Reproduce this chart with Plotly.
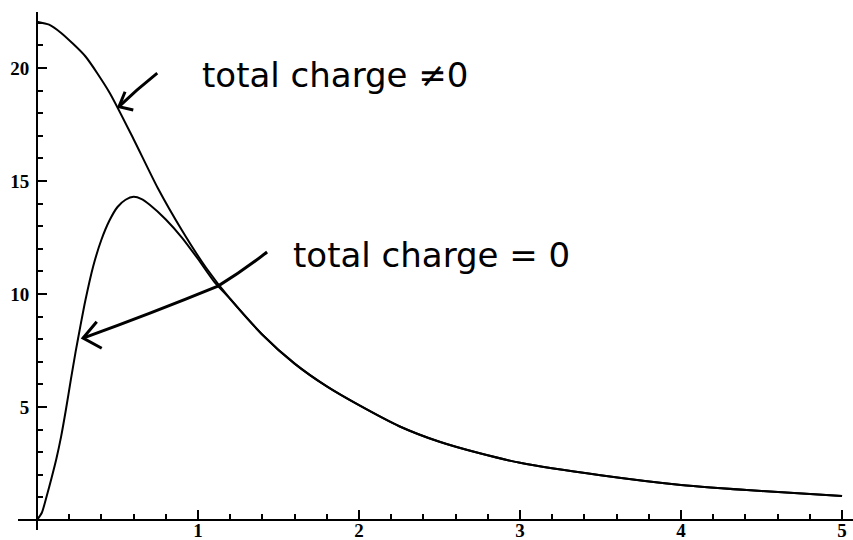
import plotly.graph_objects as go

# Potential curves: total charge != 0 and total charge = 0
x_nonzero = [0, 0.075, 0.15, 0.3, 0.45, 0.6, 0.75, 0.9, 1.05, 1.2, 1.4, 1.6,
             1.8, 2.0, 2.25, 2.5, 2.75, 3.0, 3.5, 4.0, 4.5, 5.0]
y_nonzero = [22.05, 21.92, 21.55, 20.52, 18.92, 16.85, 14.69, 12.82, 11.16,
             9.78, 8.2, 6.92, 5.91, 5.08, 4.15, 3.46, 2.95, 2.53, 1.98, 1.55,
             1.28, 1.06]

x_zero = [0, 0.03, 0.06, 0.09, 0.12, 0.15, 0.18, 0.21, 0.24, 0.27, 0.3, 0.35,
          0.4, 0.45, 0.5, 0.55, 0.6, 0.65, 0.7, 0.8, 0.9, 1.0, 1.1, 1.2, 1.4,
          1.6, 1.8, 2.0, 2.25, 2.5, 2.75, 3.0, 3.5, 4.0, 4.5, 5.0]
y_zero = [0, 0.32, 1.05, 1.85, 2.7, 3.7, 4.9, 6.2, 7.45, 8.6, 9.7, 11.25,
          12.4, 13.25, 13.85, 14.17, 14.3, 14.2, 13.95, 13.3, 12.5, 11.55,
          10.55, 9.78, 8.2, 6.92, 5.91, 5.08, 4.15, 3.46, 2.95, 2.53, 1.98,
          1.55, 1.28, 1.06]

x_tick_vals = [1, 2, 3, 4, 5]
y_tick_vals = [5, 10, 15, 20]

label_nonzero = "total charge ≠0"
label_zero = "total charge = 0"

X_RANGE = [-0.118, 5.068]
Y_RANGE = [-0.442, 22.478]

fig = go.Figure()
for xs, ys in [(x_nonzero, y_nonzero), (x_zero, y_zero)]:
    fig.add_trace(go.Scatter(
        x=xs, y=ys, mode="lines",
        line=dict(color="black", width=2, shape="spline", smoothing=0.6),
        hoverinfo="skip", showlegend=False,
    ))

# axes cross at the origin, Mathematica style
x_pos = (0 - Y_RANGE[0]) / (Y_RANGE[1] - Y_RANGE[0])
y_pos = (0 - X_RANGE[0]) / (X_RANGE[1] - X_RANGE[0])


def axis_style(rng, pos, vals, minor_step, standoff):
    return dict(
        range=rng, anchor="free", position=pos,
        showline=True, linecolor="black", linewidth=2,
        showgrid=False, zeroline=False, automargin=False,
        tickmode="array", tickvals=vals,
        ticks="inside", ticklen=9, tickwidth=1.5, tickcolor="black",
        tickfont=dict(family="Liberation Serif", size=19, color="black",
                      weight="bold"),
        ticklabelstandoff=standoff,
        minor=dict(tick0=0, dtick=minor_step, ticks="inside", ticklen=5,
                   tickwidth=1.5, tickcolor="black"),
    )


fig.update_layout(
    width=853, height=540,
    margin=dict(l=18, r=0, t=12, b=10),
    paper_bgcolor="white", plot_bgcolor="white",
    font=dict(family="Liberation Serif", size=19, color="black"),
    xaxis=axis_style(X_RANGE, x_pos, x_tick_vals, 0.2, -7),
    yaxis=axis_style(Y_RANGE, y_pos, y_tick_vals, 1, 3),
)

arrow_line = dict(color="black", width=3)
fig.add_shape(type="path", xref="x", yref="y", line=arrow_line,
              path="M 0.747 19.77 Q 0.62 19.05 0.509 18.29")
fig.add_shape(type="path", xref="x", yref="y", line=arrow_line,
              path="M 0.547 18.95 L 0.509 18.29 L 0.598 18.14")
fig.add_shape(type="path", xref="x", yref="y", line=arrow_line,
              path="M 1.429 11.86 Q 1.280 11.02 1.124 10.35 Q 0.702 9.12 0.286 8.05")
fig.add_shape(type="path", xref="x", yref="y", line=arrow_line,
              path="M 0.371 8.77 L 0.286 8.05 L 0.402 7.60")

hand_font = dict(family="DejaVu Sans", size=34, color="black")
fig.add_annotation(x=1.851, y=19.69, xref="x", yref="y", text=label_nonzero,
                   showarrow=False, font=hand_font)
fig.add_annotation(x=2.45, y=11.73, xref="x", yref="y", text=label_zero,
                   showarrow=False, font=hand_font)

fig.write_html("out.html")
